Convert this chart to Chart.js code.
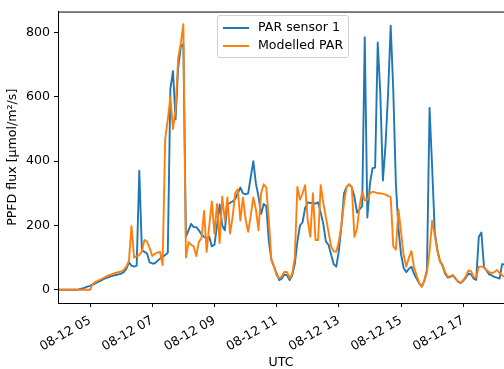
<!DOCTYPE html>
<html><head><meta charset="utf-8">
<script src="https://cdn.jsdelivr.net/npm/chart.js@4.4.1/dist/chart.umd.min.js"></script>
<style>
html,body{margin:0;padding:0;background:#fff;}
#wrap{position:relative;width:504px;height:369px;overflow:hidden;}
#legend{position:absolute;left:217px;top:15px;width:130px;height:41px;border:1px solid #d0d0d0;border-radius:3px;background:rgba(255,255,255,0.8);font:12.6px "DejaVu Sans";color:#000;}
.item{position:absolute;left:5px;height:14px;line-height:14px;white-space:nowrap;}
.swatch{display:inline-block;width:26px;height:0;border-top:2px solid;vertical-align:middle;margin-right:9px;}
</style></head>
<body><div id="wrap"><canvas id="c" width="504" height="369"></canvas><div id="legend"></div></div>
<script>
// 5-minute samples starting 08-12 04:00 UTC
const startHour = 4;
const stepMinutes = 5;
const dayLabel = '08-12';
const seriesNames = ['PAR sensor 1', 'Modelled PAR'];
const sensor = [
  0,0,0,0,0,0,0,0,2,4,7,10,
  12,16,20,24,28,32,36,39,42,44,46,48,
  50,55,65,85,75,72,75,370,123,118,113,85,
  82,82,90,97,103,108,115,625,680,530,690,755,
  765,165,185,205,195,195,185,172,165,160,165,135,
  140,200,265,200,185,265,270,275,282,300,318,300,
  297,300,350,400,330,290,236,267,260,150,92,72,
  50,30,35,48,45,30,45,80,150,200,210,255,
  272,270,270,268,272,240,205,150,140,110,80,72,
  120,200,300,320,328,318,290,240,250,260,785,225,
  330,378,380,769,610,340,450,610,821,620,330,190,
  110,68,55,65,72,50,35,20,10,28,62,565,
  380,180,125,90,75,50,38,40,45,35,25,21,
  28,38,50,48,35,31,165,178,70,60,48,45,
  40,38,35,80,78
];
const modelled = [
  0,0,0,0,0,0,0,0,0,0,0,0,
  0,18,24,28,32,36,40,44,47,50,53,55,
  57,62,72,90,198,100,105,108,120,155,150,130,
  105,112,116,118,77,470,530,600,500,560,720,765,
  826,100,148,140,135,105,150,160,245,118,200,275,
  175,267,145,290,215,287,175,225,300,313,215,287,
  220,180,230,287,250,185,300,328,318,215,92,72,
  45,36,42,56,55,36,50,100,320,280,300,325,
  215,165,300,155,155,325,270,225,180,135,120,118,
  150,200,270,320,328,320,165,190,260,305,278,280,
  300,305,303,300,300,298,296,292,288,135,125,250,
  180,108,72,100,120,70,45,22,10,30,55,120,
  215,170,120,87,78,55,41,42,46,35,26,22,
  30,42,60,58,40,38,72,72,70,62,55,52,
  55,62,52,45,40
];
const xTicks = [5,7,9,11,13,15,17];
const yTicks = [0,200,400,600,800];
const colors = ['#1f77b4', '#ff7f0e'];

const hourOf = i => startHour + i * stepMinutes / 60;
const toPoints = arr => arr.map((v, i) => ({x: hourOf(i), y: v}));

const font = {family: '"DejaVu Sans", sans-serif', size: 12.6};
const frame = {
  id: 'frame',
  afterDraw(c) {
    const a = c.chartArea, ctx = c.ctx;
    ctx.save();
    ctx.strokeStyle = '#000'; ctx.lineWidth = 1;
    ctx.beginPath(); ctx.moveTo(a.left, a.top + 0.5); ctx.lineTo(a.right, a.top + 0.5); ctx.stroke();
    ctx.restore();
  }
};

const chart = new Chart(document.getElementById('c'), {
  type: 'line',
  data: {
    datasets: [
      {label: seriesNames[0], data: toPoints(sensor), borderColor: colors[0], borderWidth: 1.9, pointRadius: 0, tension: 0, order: 1, borderJoinStyle: 'round'},
      {label: seriesNames[1], data: toPoints(modelled), borderColor: colors[1], borderWidth: 1.9, pointRadius: 0, tension: 0, order: 0, borderJoinStyle: 'round'}
    ]
  },
  options: {
    responsive: false, animation: false, devicePixelRatio: 1,
    layout: {padding: {top: 9, right: 0, bottom: 0, left: 0}},
    plugins: {legend: {display: false}, tooltip: {enabled: false}},
    scales: {
      x: {
        type: 'linear', min: 3.97, max: 18.31,
        afterBuildTicks: s => { s.ticks = xTicks.map(v => ({value: v})); },
        afterFit: s => { s.height = 66; },
        ticks: {font, color: '#000', minRotation: 30, maxRotation: 30, padding: 6,
          callback: v => dayLabel + ' ' + String(v).padStart(2, '0')},
        grid: {drawOnChartArea: false, drawTicks: true, tickLength: 4, tickColor: '#000'},
        border: {display: true, color: '#000', width: 1},
        title: {display: true, text: 'UTC', font, color: '#000', padding: {top: 0, bottom: -1}}
      },
      y: {
        min: -41, max: 865,
        afterBuildTicks: s => { s.ticks = yTicks.map(v => ({value: v})); },
        afterFit: s => { s.width = 58; },
        ticks: {font, color: '#000', padding: 4},
        grid: {drawOnChartArea: false, drawTicks: true, tickLength: 4, tickColor: '#000'},
        border: {display: true, color: '#000', width: 1},
        title: {display: true, text: 'PPFD flux [µmol/m²/s]', font, color: '#000', padding: {top: 5, bottom: 0}}
      }
    }
  },
  plugins: [frame]
});

const lg = document.getElementById('legend');
chart.data.datasets.forEach((d, i) => {
  const it = document.createElement('div');
  it.className = 'item';
  it.style.top = (4 + i * 18) + 'px';
  const sw = document.createElement('span');
  sw.className = 'swatch'; sw.style.borderColor = d.borderColor;
  it.appendChild(sw);
  it.appendChild(document.createTextNode(d.label));
  lg.appendChild(it);
});
</script>
</body></html>
